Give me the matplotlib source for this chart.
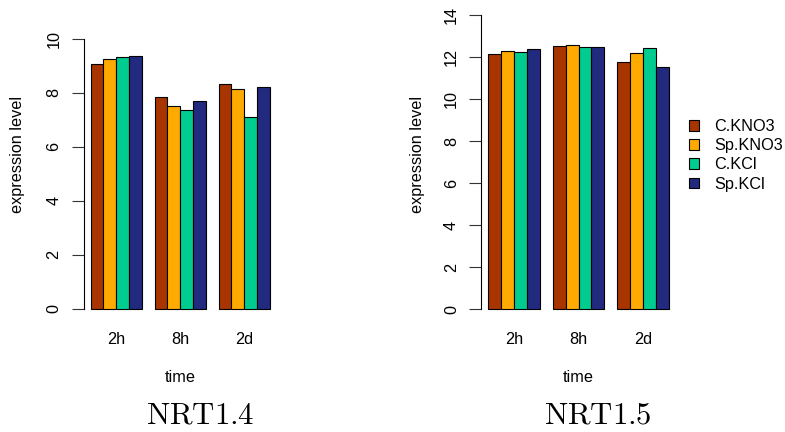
import numpy as np
import matplotlib
matplotlib.use("Agg")
import matplotlib.pyplot as plt
from matplotlib.transforms import blended_transform_factory

plt.rcParams["font.family"] = ["Liberation Sans", "DejaVu Sans"]
plt.rcParams["mathtext.fontset"] = "cm"

times = ["2h", "8h", "2d"]
treatments = ["C.KNO3", "Sp.KNO3", "C.KCl", "Sp.KCl"]
colors = ["#a83400", "#ffaa00", "#00cc90", "#222a80"]

# expression per treatment, one value per time point
nrt14 = {
    "C.KNO3": [9.07, 7.83, 8.32],
    "Sp.KNO3": [9.25, 7.52, 8.15],
    "C.KCl": [9.31, 7.37, 7.10],
    "Sp.KCl": [9.35, 7.69, 8.21],
}
nrt15 = {
    "C.KNO3": [12.15, 12.54, 11.75],
    "Sp.KNO3": [12.30, 12.59, 12.18],
    "C.KCl": [12.26, 12.49, 12.45],
    "Sp.KCl": [12.40, 12.49, 11.54],
}

FS = 11.7
W, H = 785, 432
fig = plt.figure(figsize=(W / 100, H / 100), dpi=100)


def px_axes(x0, x1, ytop, ybot):
    return fig.add_axes([x0 / W, 1 - ybot / H, (x1 - x0) / W, (ybot - ytop) / H])


def barplot(ax, data, ymax, title, title_x, ylab_x):
    # R style: bars of width 1, one empty slot between groups
    for k, name in enumerate(treatments):
        xs = np.arange(len(times)) * 5 + 1 + k + 0.5
        ax.bar(xs, data[name], width=1, color=colors[k], edgecolor="black",
               linewidth=0.8, label=name)
    ax.set_xlim(0.44, 15.56)
    ax.set_ylim(-0.04 * ymax, 1.04 * ymax)
    for s in ["top", "right", "bottom"]:
        ax.spines[s].set_visible(False)
    ax.spines["left"].set_bounds(0, ymax)
    ax.spines["left"].set_linewidth(0.8)
    ax.set_yticks(np.arange(0, ymax + 1, 2))
    ax.tick_params(axis="y", length=9, width=0.8, pad=7, labelsize=FS,
                   labelrotation=90, color="#333333")
    for lab in ax.get_yticklabels():
        lab.set_va("center")
    ax.set_xticks([])
    tr = blended_transform_factory(ax.transData, fig.transFigure)
    for g, t in enumerate(times):
        ax.text(g * 5 + 3, 1 - 340 / H, t, transform=tr, ha="center",
                va="center", fontsize=FS)
    ax.text(8, 1 - 378 / H, "time", transform=tr, ha="center", va="center",
            fontsize=FS)
    fig.text(ylab_x / W, 1 - 154 / H, "expression level", rotation=90,
             ha="center", va="center", fontsize=FS)
    fig.text(title_x / W, 1 - 424 / H, r"$\mathrm{" + title + "}$",
             ha="center", va="baseline", fontsize=22.2)


ax1 = px_axes(83.5, 277, 27.9, 319.8)
barplot(ax1, nrt14, 10, "NRT1.4", 200, 17.5)

ax2 = px_axes(481.1, 676.1, 3.2, 321.1)
barplot(ax2, nrt15, 14, "NRT1.5", 597.5, 417.5)

h, l = ax2.get_legend_handles_labels()
fig.legend(h, l, loc="upper left", bbox_to_anchor=(689 / W, 1 - 119 / H),
           frameon=False, fontsize=FS, handlelength=0.62, handleheight=0.62,
           handletextpad=0.92, labelspacing=0.26, borderpad=0, borderaxespad=0)

fig.savefig("out.png", dpi=100)
